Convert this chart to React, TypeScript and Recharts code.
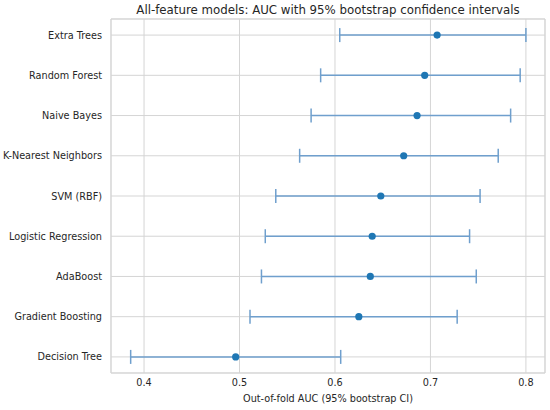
import {
    ScatterChart,
    Scatter,
    XAxis,
    YAxis,
    CartesianGrid,
    ErrorBar,
    ReferenceArea,
} from 'recharts';

const models = [
    'Extra Trees',
    'Random Forest',
    'Naive Bayes',
    'K-Nearest Neighbors',
    'SVM (RBF)',
    'Logistic Regression',
    'AdaBoost',
    'Gradient Boosting',
    'Decision Tree',
];
const auc = [0.707, 0.694, 0.686, 0.672, 0.648, 0.639, 0.637, 0.625, 0.496];
const ciLow = [0.605, 0.585, 0.575, 0.563, 0.538, 0.527, 0.523, 0.511, 0.386];
const ciHigh = [0.8, 0.794, 0.784, 0.771, 0.752, 0.741, 0.748, 0.728, 0.606];
const xTicks = [0.4, 0.5, 0.6, 0.7, 0.8];

const data = models.map((name, i) => ({
    name,
    row: i,
    auc: auc[i],
    err: [auc[i] - ciLow[i], ciHigh[i] - auc[i]],
}));

const X_DOMAIN: [number, number] = [0.3654, 0.82];
const Y_DOMAIN: [number, number] = [-0.4, 8.4];
const font = '"DejaVu Sans", sans-serif';
const grid = '#d5d5d5';
const text = '#262626';
const tickFont = 9.7;

const Dot = (props: any) => (
    <circle cx={props.cx} cy={props.cy} r={3.6} fill="#1f77b4" />
);

// plain one-line label, recharts would wrap the long names otherwise
const ModelTick = ({ x, y, payload }: any) => (
    <text
        x={x - 7}
        y={y}
        textAnchor="end"
        dominantBaseline="central"
        fontSize={tickFont}
        fontFamily={font}
        fill={text}
    >
        {models[payload.value]}
    </text>
);

export default function App() {
    return (
        <div style={{ position: 'absolute', left: 0, top: 0, width: 550, height: 410, background: '#fff', fontFamily: font }}>
            <div
                style={{
                    position: 'absolute',
                    left: 111,
                    width: 434,
                    top: 3,
                    textAlign: 'center',
                    fontSize: 11.8,
                    color: text,
                }}
            >
                All-feature models: AUC with 95% bootstrap confidence intervals
            </div>
            <ScatterChart
                width={550}
                height={410}
                margin={{ top: 19, right: 5, bottom: 0, left: 0 }}
            >
                <CartesianGrid stroke={grid} strokeWidth={1} />
                <XAxis
                    type="number"
                    dataKey="auc"
                    domain={X_DOMAIN}
                    ticks={xTicks}
                    allowDataOverflow
                    height={37}
                    tickSize={0}
                    tickMargin={6}
                    axisLine={false}
                    tick={{ fontSize: tickFont, fill: text, fontFamily: font }}
                    label={{
                        value: 'Out-of-fold AUC (95% bootstrap CI)',
                        position: 'insideBottom',
                        offset: 8,
                        fontSize: tickFont,
                        fill: text,
                        fontFamily: font,
                    }}
                />
                <YAxis
                    type="number"
                    dataKey="row"
                    domain={Y_DOMAIN}
                    ticks={models.map((_, i) => i)}
                    reversed
                    allowDataOverflow
                    width={111}
                    tickSize={0}
                    axisLine={false}
                    interval={0}
                    tick={ModelTick}
                />
                <ReferenceArea
                    x1={X_DOMAIN[0]}
                    x2={X_DOMAIN[1]}
                    y1={Y_DOMAIN[0]}
                    y2={Y_DOMAIN[1]}
                    fill="none"
                    stroke={grid}
                    strokeWidth={1}
                    ifOverflow="visible"
                />
                <Scatter data={data} shape={Dot} isAnimationActive={false}>
                    <ErrorBar
                        dataKey="err"
                        direction="x"
                        stroke="#6f9fcd"
                        strokeWidth={1.5}
                        width={7}
                        isAnimationActive={false}
                    />
                </Scatter>
            </ScatterChart>
        </div>
    );
}
